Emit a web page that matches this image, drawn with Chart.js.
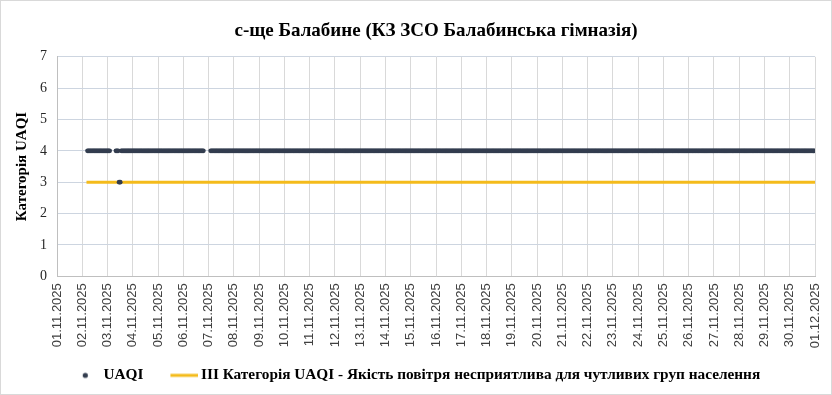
<!DOCTYPE html>
<html><head><meta charset="utf-8">
<script src="https://cdn.jsdelivr.net/npm/chart.js@4/dist/chart.umd.min.js"></script>
<style>
html,body{margin:0;padding:0;background:#fff;}
#wrap{position:relative;width:832px;height:395px;box-sizing:border-box;border:1px solid #d9d9d9;background:#fff;}
</style></head><body>
<div id="wrap"><canvas id="c"></canvas></div>
<script>
const chartTitle = 'с-ще Балабине (КЗ ЗСО Балабинська гімназія)';
const yAxisTitle = 'Категорія UAQI';
const seriesNames = ['UAQI', 'III Категорія UAQI - Якість повітря несприятлива для чутливих груп населення'];
const dateLabels = ['01.11.2025','02.11.2025','03.11.2025','04.11.2025','05.11.2025','06.11.2025','07.11.2025','08.11.2025','09.11.2025','10.11.2025','11.11.2025','12.11.2025','13.11.2025','14.11.2025','15.11.2025','16.11.2025','17.11.2025','18.11.2025','19.11.2025','20.11.2025','21.11.2025','22.11.2025','23.11.2025','24.11.2025','25.11.2025','26.11.2025','27.11.2025','28.11.2025','29.11.2025','30.11.2025','01.12.2025'];
// Hourly UAQI readings, stored as runs [first hour, last hour, category]; hours from 01.11.2025 00:00
const uaqiRuns = [[29,50,4],[56,58,4],[59,60,3],[61,139,4],[146,719,4]];
// Threshold line (category III)
const thresholdHours = [28, 720];
const thresholdLevel = [3, 3];
const yMin = 0, yMax = 7;

const DARK = '#333d4f', GOLD = '#f4bb1b';

const uaqiPoints = [];
uaqiRuns.forEach(([a, b, v]) => { for (let h = a; h <= b; h++) uaqiPoints.push({x: h, y: v}); });
const thresholdPoints = thresholdHours.map((h, i) => ({x: h, y: thresholdLevel[i]}));

function makeIcon(kind) {
  const c = document.createElement('canvas');
  c.width = 50; c.height = 10;
  const g = c.getContext('2d');
  if (kind === 'dot') {
    g.fillStyle = DARK; g.beginPath(); g.arc(34.5, 5, 2.6, 0, Math.PI * 2); g.fill();
  } else {
    g.fillStyle = GOLD; g.fillRect(22, 3.5, 28, 3);
  }
  return c;
}
const icons = [makeIcon('dot'), makeIcon('line')];

new Chart(document.getElementById('c'), {
  type: 'scatter',
  data: {
    datasets: [
      { label: seriesNames[0], data: uaqiPoints, backgroundColor: DARK, borderColor: DARK,
        pointRadius: 2.4, pointBorderWidth: 0, pointHoverRadius: 2.4, order: 0 },
      { type: 'line', label: seriesNames[1], data: thresholdPoints, borderColor: GOLD, backgroundColor: GOLD,
        borderWidth: 3, pointRadius: 0, showLine: true, fill: false, order: 1 }
    ]
  },
  options: {
    responsive: true, maintainAspectRatio: false, animation: false,
    layout: { padding: { left: 0, right: 16, top: 0, bottom: 1 } },
    plugins: {
      tooltip: { enabled: false },
      title: { display: true, fullSize: false, text: chartTitle, color: '#000',
        font: { family: 'Liberation Serif', size: 19, weight: 'bold' }, padding: { top: 19, bottom: 14 } },
      legend: { position: 'bottom',
        labels: { usePointStyle: true, pointStyleWidth: 40, boxHeight: 10, padding: 10, color: '#000',
          font: { family: 'Liberation Serif', size: 15.3, weight: 'bold' },
          generateLabels: (chart) => Chart.defaults.plugins.legend.labels.generateLabels(chart).map((l, i) => { l.pointStyle = icons[i]; return l; }) } }
    },
    scales: {
      x: { type: 'linear', min: 0, max: 720,
        afterFit: (s) => { s.height = 81.5; s.paddingRight = 0; s.paddingLeft = 0; },
        grid: { color: '#d9d9d9', drawTicks: false },
        border: { color: '#bfbfbf' },
        ticks: { stepSize: 24, autoSkip: false, maxRotation: 90, minRotation: 90, padding: 7, color: '#404040',
          font: { family: 'Liberation Sans', size: 13 },
          callback: (v) => dateLabels[Math.round(v / 24)] }
      },
      y: { min: yMin, max: yMax,
        afterFit: (s) => { s.width = 56; },
        grid: { color: '#cdd5e0', drawTicks: false },
        border: { color: '#bfbfbf' },
        ticks: { stepSize: 1, padding: 10, color: '#262626', font: { family: 'Liberation Serif', size: 14 } },
        title: { display: true, text: yAxisTitle, color: '#000', padding: { top: 12, bottom: 0 },
          font: { family: 'Liberation Serif', size: 15, weight: 'bold' } }
      }
    }
  }
});
</script>
</body></html>
